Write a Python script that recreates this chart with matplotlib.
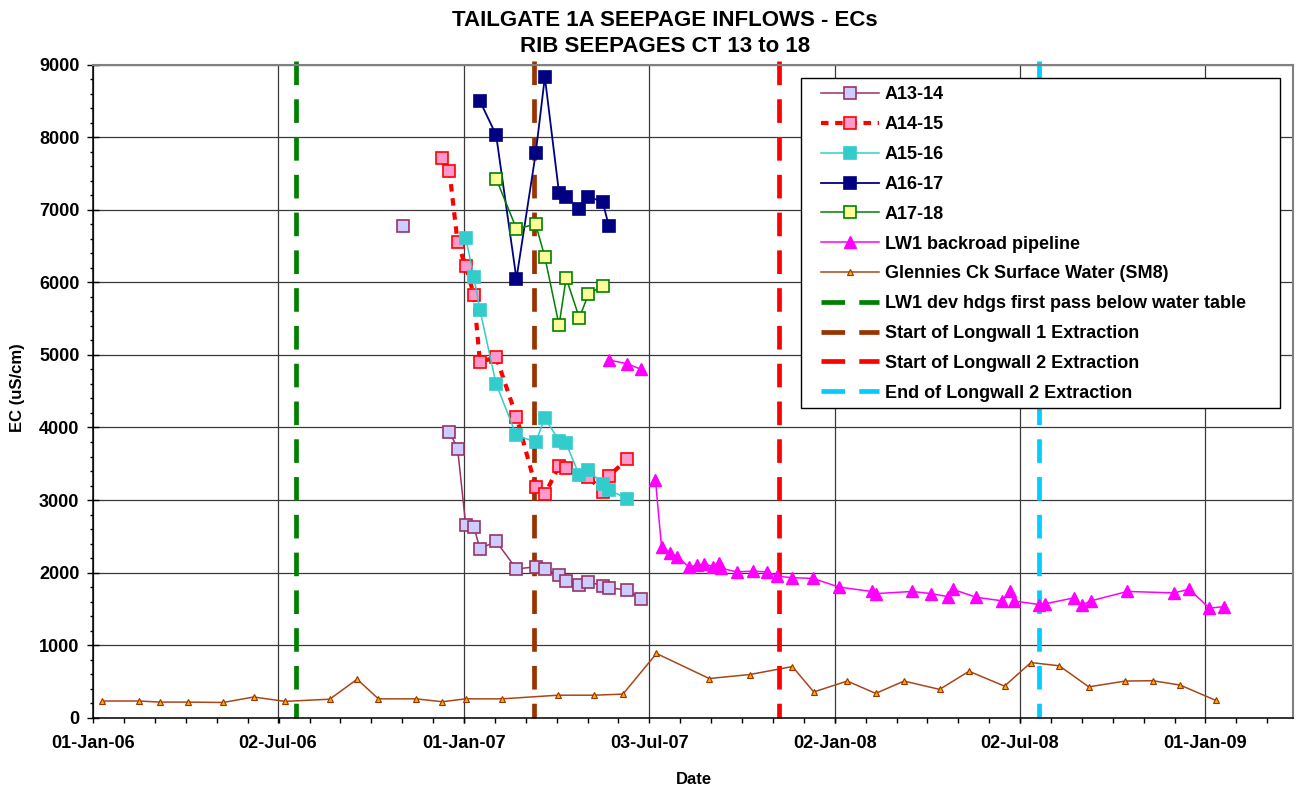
import numpy as np
import pandas as pd
import matplotlib
matplotlib.use('Agg')
import matplotlib.pyplot as plt
import matplotlib.dates as mdates
from matplotlib.patches import Rectangle

plt.rcParams['font.family'] = ['Liberation Sans', 'DejaVu Sans']
plt.rcParams['font.weight'] = 'bold'

nan = np.nan

# rib seepage ECs (uS/cm), NaN = gap in the series line
a1314_dates = ['2006-11-02', '2006-11-25', '2006-12-18', '2006-12-26', '2007-01-03', '2007-01-11',
               '2007-01-17', '2007-02-02', '2007-02-22', '2007-03-13', '2007-03-22', '2007-04-05',
               '2007-04-12', '2007-04-25', '2007-05-04', '2007-05-18', '2007-05-24', '2007-06-11',
               '2007-06-25']
a1314_ec = [6770, nan, 3940, 3710, 2660, 2630, 2330, 2430, 2050, 2080, 2050, 1960,
            1890, 1830, 1870, 1820, 1790, 1760, 1630]

a1415_dates = ['2006-12-11', '2006-12-18', '2006-12-26', '2007-01-03', '2007-01-11', '2007-01-17',
               '2007-02-02', '2007-02-22', '2007-03-13', '2007-03-22', '2007-04-05', '2007-04-12',
               '2007-05-04', '2007-05-18', '2007-05-24', '2007-06-11']
a1415_ec = [7720, 7530, 6550, 6220, 5830, 4900, 4970, 4150, 3180, 3080, 3470, 3440,
            3320, 3110, 3330, 3560]

a1516_dates = ['2007-01-03', '2007-01-11', '2007-01-17', '2007-02-02', '2007-02-22', '2007-03-13',
               '2007-03-22', '2007-04-05', '2007-04-12', '2007-04-25', '2007-05-04', '2007-05-18',
               '2007-05-24', '2007-06-11']
a1516_ec = [6610, 6080, 5620, 4600, 3890, 3800, 4130, 3820, 3780, 3340, 3410, 3220, 3140, 3020]

a1617_dates = ['2007-01-17', '2007-02-02', '2007-02-22', '2007-03-13', '2007-03-22', '2007-04-05',
               '2007-04-12', '2007-04-25', '2007-05-04', '2007-05-18', '2007-05-24']
a1617_ec = [8500, 8030, 6050, 7780, 8830, 7230, 7180, 7010, 7180, 7110, 6780]

a1718_dates = ['2007-02-02', '2007-02-22', '2007-03-13', '2007-03-22', '2007-04-05', '2007-04-12',
               '2007-04-25', '2007-05-04', '2007-05-18']
a1718_ec = [7430, 6740, 6800, 6350, 5410, 6060, 5510, 5840, 5950]

lw1_dates = ['2007-05-24', '2007-06-11', '2007-06-25', '2007-07-01', '2007-07-09', '2007-07-15',
             '2007-07-23', '2007-07-30', '2007-08-11', '2007-08-19', '2007-08-26', '2007-09-04',
             '2007-09-10', '2007-09-12', '2007-09-27', '2007-10-13', '2007-10-27', '2007-11-06',
             '2007-11-21', '2007-12-11', '2008-01-06', '2008-02-07', '2008-02-11', '2008-03-18',
             '2008-04-06', '2008-04-22', '2008-04-27', '2008-05-20', '2008-06-15', '2008-06-22',
             '2008-06-26', '2008-07-21', '2008-07-27', '2008-08-24', '2008-09-01', '2008-09-10',
             '2008-10-16', '2008-12-01', '2008-12-16', '2009-01-05', '2009-01-19']
lw1_ec = [4930, 4880, 4800, nan, 3280, 2350, 2270, 2220, 2080, 2100, 2120, 2080,
          2130, 2060, 2010, 2020, 2010, 1950, 1930, 1920, 1800, 1740, 1710, 1740,
          1710, 1670, 1770, 1660, 1610, 1750, 1610, 1560, 1570, 1650, 1550, 1610,
          1740, 1720, 1770, 1510, 1530]

sm8_dates = ['2006-01-10', '2006-02-15', '2006-03-08', '2006-04-04', '2006-05-09', '2006-06-08',
             '2006-07-09', '2006-08-22', '2006-09-18', '2006-10-09', '2006-11-15', '2006-12-11',
             '2007-01-03', '2007-02-08', '2007-04-04', '2007-05-09', '2007-06-07', '2007-07-10',
             '2007-08-31', '2007-10-10', '2007-11-21', '2007-12-12', '2008-01-14', '2008-02-11',
             '2008-03-10', '2008-04-14', '2008-05-13', '2008-06-17', '2008-07-13', '2008-08-10',
             '2008-09-08', '2008-10-14', '2008-11-10', '2008-12-07', '2009-01-11']
sm8_ec = [230, 230, 215, 215, 210, 285, 225, 255, 530, 260, 260, 220,
          260, 260, 310, 310, 325, 885, 540, 595, 705, 355, 505, 335,
          505, 390, 640, 435, 760, 715, 425, 505, 510, 450, 240]

# mining events (vertical markers)
event_labels = ['LW1 dev hdgs first pass below water table', 'Start of Longwall 1 Extraction',
                'Start of Longwall 2 Extraction', 'End of Longwall 2 Extraction']
event_dates = ['2006-07-20', '2007-03-11', '2007-11-08', '2008-07-21']
event_colors = ['#008000', '#993300', '#FF0000', '#00CCFF']

major_dates = ['2006-01-01', '2006-07-02', '2007-01-01', '2007-07-03', '2008-01-02', '2008-07-02', '2009-01-01']

W, H = 1305, 789
fig = plt.figure(figsize=(W / 100, H / 100), dpi=100)
ax = fig.add_axes([93.3 / W, 1 - 717.7 / H, (1292.7 - 93.3) / W, (717.7 - 64.7) / H])

d = pd.to_datetime
ax.plot(d(sm8_dates), sm8_ec, color='#A8461A', lw=1.1, marker='^', ms=4.5,
        mfc='#FFAA00', mec='#993300', mew=0.8, zorder=2, label='Glennies Ck Surface Water (SM8)')

ev_handles = []
for lab, dt, col in zip(event_labels, event_dates, event_colors):
    x = mdates.date2num(d(dt))
    ln, = ax.plot([x, x], [9050, 0], color=col, lw=3.4, dashes=(5, 3), zorder=2.5,
                  clip_on=False, label=lab)
    ev_handles.append(ln)

h1, = ax.plot(d(a1314_dates), a1314_ec, color='#993366', lw=1.1, marker='s', ms=8.5,
              mfc='#CCCCFF', mec='#993366', mew=1.2, zorder=3, label='A13-14')
h2, = ax.plot(d(a1415_dates), a1415_ec, color='#FF0000', lw=3, dashes=(1.8, 1.6), marker='s', ms=8.5,
              mfc='#FF99CC', mec='#FF0000', mew=1.2, zorder=3, label='A14-15')
h3, = ax.plot(d(a1516_dates), a1516_ec, color='#33CCCC', lw=1.1, marker='s', ms=8.5,
              mfc='#33CCCC', mec='#33CCCC', mew=1.2, zorder=3, label='A15-16')
h4, = ax.plot(d(a1617_dates), a1617_ec, color='#000080', lw=1.3, marker='s', ms=9,
              mfc='#000080', mec='#000080', mew=1.2, zorder=3, label='A16-17')
h5, = ax.plot(d(a1718_dates), a1718_ec, color='#008000', lw=1.1, marker='s', ms=8.5,
              mfc='#FFFF99', mec='#008000', mew=1.2, zorder=3, label='A17-18')
h6, = ax.plot(d(lw1_dates), lw1_ec, color='#FF00FF', lw=1.1, marker='^', ms=9,
              mfc='#FF00FF', mec='#FF00FF', zorder=3, label='LW1 backroad pipeline')
h7 = ax.get_lines()[0]

# axes
ax.set_ylim(0, 9000)
ax.set_xlim(d('2006-01-01'), d('2009-03-28'))
ax.set_yticks(np.arange(0, 9001, 1000))
ax.set_yticks(np.arange(0, 9001, 200), minor=True)
majors = mdates.date2num(d(major_dates))
step = np.diff(majors).mean() / 6
minors = np.arange(majors[0], mdates.date2num(d('2009-03-28')), step)
ax.set_xticks(majors)
ax.set_xticks(minors, minor=True)
ax.xaxis.set_major_formatter(mdates.DateFormatter('%d-%b-%y'))
ax.tick_params(axis='x', which='both', direction='out', length=3.6, width=1, pad=8.5, labelsize=13)
ax.tick_params(axis='y', which='major', direction='inout', length=9, width=1, pad=5.5, labelsize=13)
ax.tick_params(axis='y', which='minor', direction='out', length=2.4, width=1)
ax.grid(True, which='major', color='#3a3a3a', lw=0.9)
ax.set_axisbelow(True)
for s in ['left', 'bottom']:
    ax.spines[s].set_color('black')
    ax.spines[s].set_linewidth(1.1)
for s in ['top', 'right']:
    ax.spines[s].set_color('#808080')
    ax.spines[s].set_linewidth(1.5)

fig.text(665 / W, 1 - 20 / H, 'TAILGATE 1A SEEPAGE INFLOWS - ECs', ha='center', va='center',
         fontsize=16, fontweight='bold')
fig.text(665 / W, 1 - 46.7 / H, 'RIB SEEPAGES CT 13 to 18', ha='center', va='center',
         fontsize=16, fontweight='bold')
fig.text(18 / W, 1 - 388 / H, 'EC (uS/cm)', rotation=90, ha='center', va='center',
         fontsize=12, fontweight='bold')
fig.text(694 / W, 1 - 780 / H, 'Date', ha='center', va='center', fontsize=12, fontweight='bold')

# legend with Excel-like frame
handles = [h1, h2, h3, h4, h5, h6, h7] + ev_handles
leg = fig.legend(handles=handles, loc='upper left', bbox_to_anchor=(816 / W, 1 - 81 / H),
                 frameon=False, fontsize=13, handlelength=3.2, handletextpad=0.3,
                 labelspacing=0.71, borderpad=0.3, borderaxespad=0)
for t in leg.get_texts():
    t.set_fontweight('bold')
fig.patches.append(Rectangle((801 / W, 1 - 408.3 / H), (1280 - 801) / W, (408.3 - 78.3) / H,
                             transform=fig.transFigure, fill=True, facecolor='white',
                             edgecolor='black', lw=1, zorder=4))
leg.set_zorder(5)

fig.savefig('out.png', dpi=100)
